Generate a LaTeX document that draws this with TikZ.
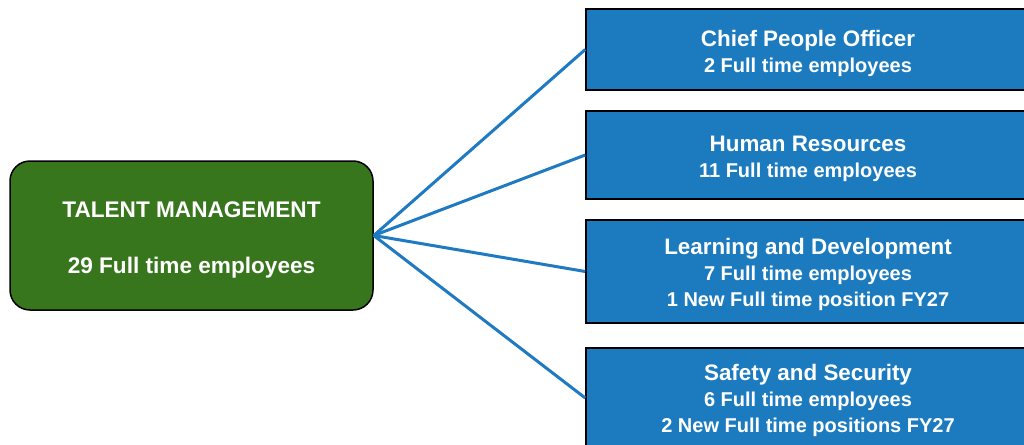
\documentclass[tikz,border=0pt]{standalone}
\usepackage{fontspec}
\setmainfont{Liberation Sans}
\begin{document}
\begin{tikzpicture}[x=1pt,y=-1pt,
  txt/.style={font=\fontsize{20}{26}\selectfont\bfseries, text=white, align=center, inner sep=0pt},
  roottxt/.style={txt, font=\fontsize{22.6}{26}\selectfont\bfseries},
  rootbox/.style={draw=black, line width=1.5pt, fill=rootgreen, rounded corners=20pt, minimum width=363pt, minimum height=149pt, inner sep=0pt},
  unitbox/.style={draw=black, line width=1.5pt, fill=unitblue, minimum width=444pt, inner sep=0pt},
  link/.style={draw=linkblue, line width=3pt}
]
\definecolor{rootgreen}{HTML}{38761D}
\definecolor{unitblue}{HTML}{1C7BBF}
\definecolor{linkblue}{HTML}{1F7AC2}
\newcommand{\ttl}[1]{{\fontsize{22.4}{26}\selectfont #1}}
\useasboundingbox (0,0) rectangle (1024,444);
\begin{scope}
\clip (0,0) rectangle (1024,444);
\node[rootbox, label={[roottxt, yshift=-4pt]center:{TALENT MANAGEMENT\\[30pt]29 Full time employees}}] (root) at (191.5,235.5) {};
\node[unitbox, minimum height=81pt, label={[txt, yshift=-3.5pt]center:{\ttl{Chief People Officer}\\2 Full time employees}}] (cpo) at (808,49.5) {};
\node[unitbox, minimum height=88pt, label={[txt, yshift=-3.5pt]center:{\ttl{Human Resources}\\11 Full time employees}}] (hr) at (808,155) {};
\node[unitbox, minimum height=103pt, label={[txt, yshift=-2.5pt]center:{\ttl{Learning and Development}\\7 Full time employees\\1 New Full time position FY27}}] (ld) at (808,271.5) {};
\node[unitbox, minimum height=100pt, label={[txt, yshift=-2.5pt]center:{\ttl{Safety and Security}\\6 Full time employees\\2 New Full time positions FY27}}] (ss) at (808,398) {};
\draw[link] (root.east) -- (cpo.west);
\draw[link] (root.east) -- (hr.west);
\draw[link] (root.east) -- (ld.west);
\draw[link] (root.east) -- (ss.west);
\end{scope}
\end{tikzpicture}
\end{document}
